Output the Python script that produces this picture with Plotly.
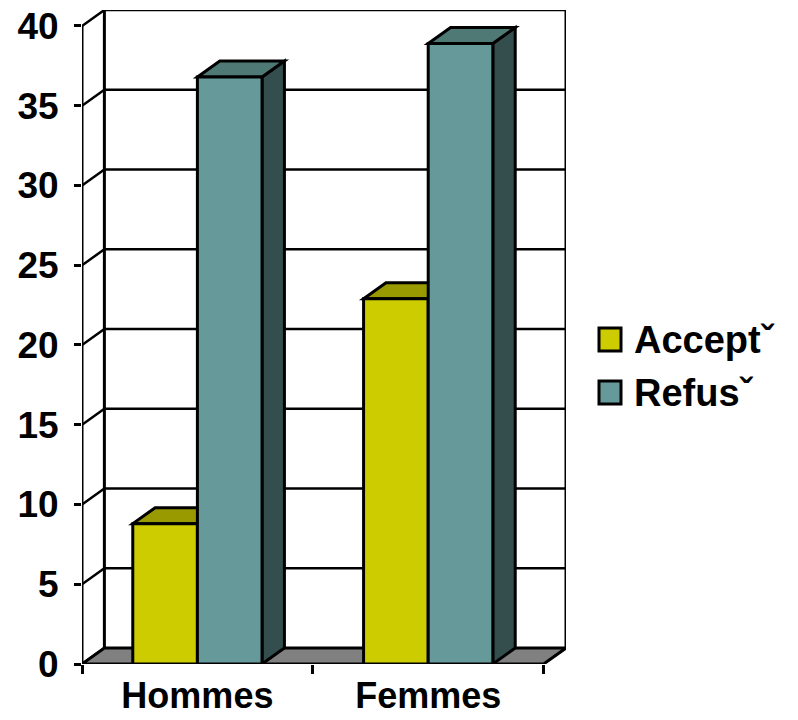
import plotly.graph_objects as go

# Chart data
categories = ["Hommes", "Femmes"]
series_names = ["Acceptˇ", "Refusˇ"]
accepte = [8.8, 22.9]
refuse = [36.8, 38.9]
y_ticks = [0, 5, 10, 15, 20, 25, 30, 35, 40]

# Styling
front_colors = ["#CCCC00", "#669999"]
top_colors = ["#999900", "#4F7975"]
side_colors = ["#666600", "#344E4E"]
floor_color = "#808080"
FONT = "Liberation Sans, Arial, sans-serif"

# Pseudo-3D geometry (in data units)
BAR_W = 0.28          # width of one bar
DX = 0.097            # depth offset along x
DY = 1.0              # depth offset along y
X_LEFT, X_RIGHT = -0.5, 1.5
Y_MAX = 40

W, H = 798, 720
ML, MR, MT, MB = 82, 232, 10, 56

fig = go.Figure()

series = [accepte, refuse]
offsets = [-BAR_W, 0.0]
for name, vals, col, off in zip(series_names, series, front_colors, offsets):
    fig.add_trace(go.Bar(
        x=list(range(len(categories))), y=vals, name=name,
        width=BAR_W, offset=off,
        marker=dict(color=col, line=dict(color="black", width=3)),
        showlegend=False, hoverinfo="skip",
    ))

shapes = []
LINE = dict(color="black", width=2.5)

# Back wall gridlines and left wall diagonals
for v in y_ticks:
    if v > 0:
        shapes.append(dict(type="line", layer="below", x0=X_LEFT + DX, y0=v + DY,
                           x1=X_RIGHT + DX, y1=v + DY, line=LINE))
    shapes.append(dict(type="line", layer="below", x0=X_LEFT, y0=v,
                       x1=X_LEFT + DX, y1=v + DY, line=LINE))

# Wall edges
shapes.append(dict(type="line", layer="below", x0=X_LEFT, y0=0, x1=X_LEFT, y1=Y_MAX,
                   line=dict(color="black", width=3)))
shapes.append(dict(type="line", layer="below", x0=X_LEFT + DX, y0=DY,
                   x1=X_LEFT + DX, y1=Y_MAX + DY, line=dict(color="black", width=3)))
shapes.append(dict(type="line", layer="below", x0=X_RIGHT + DX, y0=DY,
                   x1=X_RIGHT + DX, y1=Y_MAX + DY, line=dict(color="black", width=3)))

# Floor
shapes.append(dict(
    type="path", layer="below",
    path=f"M{X_LEFT},0 L{X_RIGHT},0 L{X_RIGHT + DX},{DY} L{X_LEFT + DX},{DY} Z",
    fillcolor=floor_color, line=dict(color="black", width=3)))

# Top and side faces of each bar
for vals, off, tc, sc in zip(series, offsets, top_colors, side_colors):
    for i, v in enumerate(vals):
        xl = i + off
        xr = xl + BAR_W
        shapes.append(dict(
            type="path", layer="below",
            path=f"M{xr},0 L{xr},{v} L{xr + DX},{v + DY} L{xr + DX},{DY} Z",
            fillcolor=sc, line=dict(color="black", width=3)))
        shapes.append(dict(
            type="path", layer="below",
            path=f"M{xl},{v} L{xr},{v} L{xr + DX},{v + DY} L{xl + DX},{v + DY} Z",
            fillcolor=tc, line=dict(color="black", width=3)))

# Legend
plot_w = W - ML - MR
plot_h = H - MT - MB
def px_to_paper_x(px):
    return (px - ML) / plot_w
def px_to_paper_y(py):
    return (H - MB - py) / plot_h

annotations = []
legend_rows = [339.5, 392.5]
for name, col, yc in zip(series_names, front_colors, legend_rows):
    shapes.append(dict(
        type="rect", xref="paper", yref="paper",
        x0=px_to_paper_x(599), x1=px_to_paper_x(621),
        y0=px_to_paper_y(yc + 11.5), y1=px_to_paper_y(yc - 11.5),
        fillcolor=col, line=dict(color="black", width=3)))
    annotations.append(dict(
        xref="paper", yref="paper", x=px_to_paper_x(632), y=px_to_paper_y(yc),
        text=name, showarrow=False, xanchor="left", yanchor="middle",
        font=dict(family=FONT, size=38, color="black", weight="bold")))

fig.update_layout(
    width=W, height=H,
    margin=dict(l=ML, r=MR, t=MT, b=MB, autoexpand=False),
    paper_bgcolor="white", plot_bgcolor="white",
    showlegend=False,
    shapes=shapes, annotations=annotations,
    xaxis=dict(
        range=[X_LEFT, X_RIGHT + DX],
        tickmode="array", tickvals=list(range(len(categories))), ticktext=categories,
        ticks="", showgrid=False, zeroline=False, showline=False,
        tickfont=dict(family=FONT, size=36, color="black", weight="bold"),
        ticklabelstandoff=7, automargin=False,
        minor=dict(tickmode="array", tickvals=[X_LEFT, 0.5, X_RIGHT],
                   ticks="outside", ticklen=9, tickwidth=2.5, tickcolor="black",
                   showgrid=False),
        fixedrange=True,
    ),
    yaxis=dict(
        range=[0, Y_MAX + DY],
        tickmode="array", tickvals=y_ticks,
        ticks="outside", ticklen=7, tickwidth=2.5, tickcolor="black",
        showgrid=False, zeroline=False, showline=False,
        tickfont=dict(family=FONT, size=37, color="black", weight="bold"),
        ticklabelstandoff=8, automargin=False,
        fixedrange=True,
    ),
)

fig.write_html("out.html")
